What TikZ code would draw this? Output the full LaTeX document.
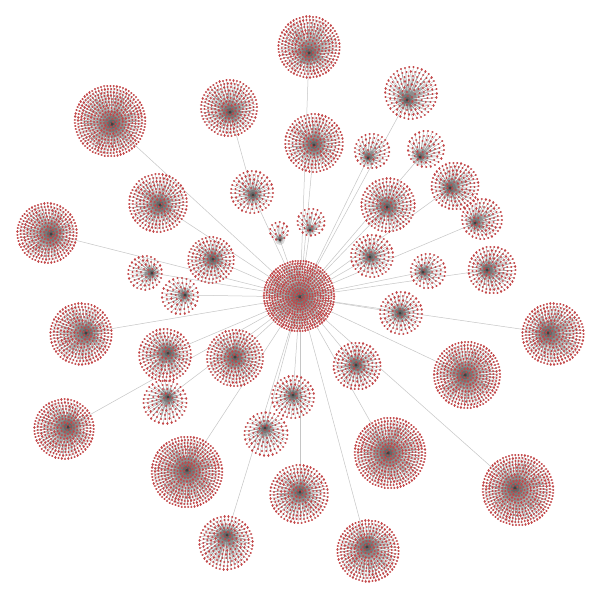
\documentclass[tikz,border=0pt]{standalone}
\pgfdeclarelayer{bg}
\pgfsetlayers{bg,main}
\definecolor{leafred}{RGB}{196,70,72}
\definecolor{edgegray}{RGB}{165,165,165}
\tikzset{
  leafedge/.style={draw=edgegray, line width=0.3pt},
  leafdot/.style={draw=leafred, line width=2.3pt, line cap=round},
  hubshade/.style={fill=black, opacity=0.14},
  link/.style={draw=gray!45, line width=0.5pt},
  hubnode/.style={circle, fill=black!75, inner sep=0pt, minimum size=3pt},
}
\newcommand\mkcluster[7]{%
  \coordinate (#1) at (#2,#3);%
  \pgfmathtruncatemacro\nK{floor(#6/#7)}%
  \draw[leafedge] foreach \k [evaluate=\k as \rr using \k*#7, evaluate=\k as \m using {int(round(2*pi*\k))}] in {1,...,\nK} { foreach \j in {1,...,\m} { (#1) -- ({#4+\rr*cos(\k*137.5+\j*(360/\m))},{#5+\rr*sin(\k*137.5+\j*(360/\m))}) } };%
  \foreach \s in {0.06,0.13,0.23,0.38}{\pgfmathsetmacro\rad{\s*#6}\fill[hubshade] (#1) circle (\rad pt);}%
  \draw[leafdot] foreach \k [evaluate=\k as \rr using \k*#7, evaluate=\k as \m using {int(round(2*pi*\k))}] in {1,...,\nK} { foreach \j in {1,...,\m} { ({#4+\rr*cos(\k*137.5+\j*(360/\m))},{#5+\rr*sin(\k*137.5+\j*(360/\m))}) -- ++(0.05,0) } };%
  \node[hubnode] at (#1) {};%
}
\begin{document}
\begin{tikzpicture}[x=1pt,y=-1pt]
\begin{pgfonlayer}{bg}
\fill[white] (0,0) rectangle (600,600);
\end{pgfonlayer}
\useasboundingbox (0,0) rectangle (600,600);
\mkcluster{c0}{300}{297}{299}{296}{37}{2.7}
\mkcluster{c2}{309}{53}{309}{47}{31}{3.4}
\mkcluster{c3}{230}{112}{229}{108}{30}{3.5}
\mkcluster{c4}{112}{124}{110}{121}{35.5}{3.2}
\mkcluster{c5}{407}{100}{411}{93}{27}{4.3}
\mkcluster{c6}{314}{145}{314}{143}{29}{3.6}
\mkcluster{c7}{368}{158}{372}{151}{21}{4.3}
\mkcluster{c8}{420}{157}{426}{149}{22}{4.5}
\mkcluster{c9}{160}{205}{158}{203}{30}{3.6}
\mkcluster{c10}{253}{195}{252}{192}{23}{4.2}
\mkcluster{c11}{387}{207}{388}{205}{27}{3.8}
\mkcluster{c12}{450}{188}{455}{186}{26}{3.9}
\mkcluster{c13}{51}{234}{47}{233}{32}{3.3}
\mkcluster{c14}{475}{223}{482}{219}{23}{4.0}
\mkcluster{c15}{280}{240}{279}{231}{13}{4.5}
\mkcluster{c16}{310}{230}{311}{222}{14}{4.5}
\mkcluster{c17}{213}{259}{211}{260}{26}{3.8}
\mkcluster{c18}{370}{257}{372}{256}{23}{4.2}
\mkcluster{c19}{152}{273}{145}{273}{20}{4.2}
\mkcluster{c20}{423}{272}{428}{271}{21}{4.3}
\mkcluster{c21}{487}{270}{492}{270}{25}{3.9}
\mkcluster{c22}{185}{295}{180}{296}{19}{4.5}
\mkcluster{c23}{400}{313}{401}{313}{25}{4.2}
\mkcluster{c24}{548}{333}{553}{334}{32}{3.4}
\mkcluster{c25}{86}{333}{81}{334}{31}{3.4}
\mkcluster{c26}{168}{353}{165}{355}{28}{3.7}
\mkcluster{c27}{235}{357}{235}{358}{29}{3.5}
\mkcluster{c28}{356}{365}{357}{366}{26}{3.9}
\mkcluster{c29}{465}{375}{467}{375}{34}{3.3}
\mkcluster{c30}{293}{395}{293}{397}{24}{4.2}
\mkcluster{c31}{168}{397}{165}{402}{23}{4.3}
\mkcluster{c32}{68}{427}{64}{429}{33}{3.3}
\mkcluster{c33}{265}{428}{266}{434}{22}{4.3}
\mkcluster{c34}{388}{453}{390}{453}{36}{3.2}
\mkcluster{c35}{187}{470}{187}{472}{36}{3.2}
\mkcluster{c36}{300}{492}{299}{494}{29}{3.6}
\mkcluster{c37}{515}{488}{518}{490}{36}{3.2}
\mkcluster{c38}{227}{535}{226}{543}{29}{3.8}
\mkcluster{c39}{367}{547}{368}{551}{31}{3.4}
\begin{pgfonlayer}{bg}
\foreach \n in {c2,c4,c5,c6,c7,c8,c9,c10,c11,c12,c13,c14,c15,c16,c17,c18,c19,c20,c21,c22,c23,c24,c25,c26,c27,c28,c29,c30,c31,c32,c33,c34,c35,c36,c37,c38,c39}
  \draw[link] (c0) -- (\n);
\draw[link] (c3) -- (c10);
\end{pgfonlayer}
\end{tikzpicture}
\end{document}
